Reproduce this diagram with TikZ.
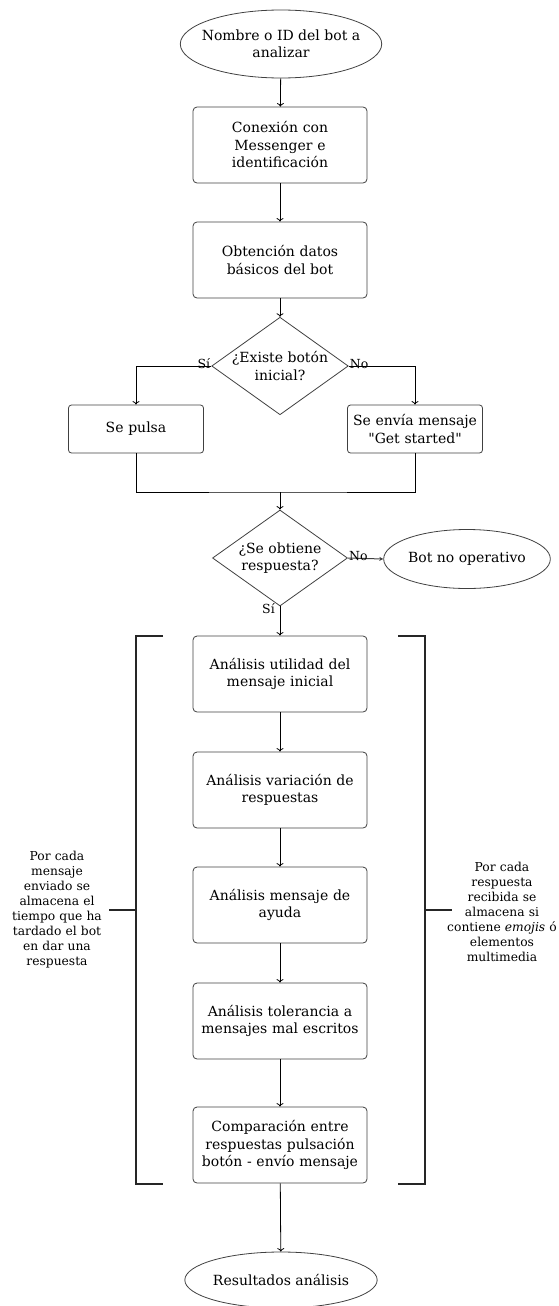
\documentclass[tikz,border=0pt]{standalone}
\usepackage{fontspec}
\setmainfont{DejaVu Serif}[Ligatures=TeXOff]
\usetikzlibrary{shapes.geometric,arrows.meta}
\begin{document}
\begin{tikzpicture}[x=1pt,y=-1pt,
  every node/.style={font=\fontsize{14}{17.5}\selectfont, align=center, inner sep=0pt},
  stepbox/.style={draw=black!75, line width=0.8pt, rounded corners=4pt, minimum width=174pt, minimum height=76pt, text width=168pt},
  sidebox/.style={draw=black!75, line width=0.8pt, rounded corners=3pt, minimum width=135pt, minimum height=48pt, text width=132pt},
  terminal/.style={draw=black!75, line width=0.8pt, ellipse},
  decision/.style={draw=black!75, line width=0.8pt, diamond, aspect=1.4, minimum width=135pt, minimum height=96pt},
  lbl/.style={font=\fontsize{12.5}{14}\selectfont},
  note/.style={font=\fontsize{12.3}{15}\selectfont, text width=110pt},
  flow/.style={draw=black, line width=0.8pt, -{To[length=3.5pt,width=7pt]}},
  link/.style={draw=black, line width=0.8pt},
  bracket/.style={draw=black!85, line width=1.7pt}
]
\useasboundingbox (0,0) rectangle (558,1306);

% main column
\node[terminal, inner xsep=-8pt, minimum width=193pt, minimum height=68pt] (start) at (281,44) {Nombre o ID del bot a\\analizar};
\node[stepbox] (conn) at (280,145) {Conexión con\\Messenger e\\identificación};
\node[stepbox] (basic) at (280,260) {Obtención datos\\básicos del bot};
\node[decision] (q1) at (280,366) {¿Existe botón\\inicial?};
\node[sidebox] (press) at (136,429) {Se pulsa};
\node[sidebox] (send) at (415,429) {Se envía mensaje\\"Get started"};
\coordinate (merge) at (280,492);
\node[decision] (q2) at (280,558) {¿Se obtiene\\respuesta?};
\node[terminal, minimum width=165pt, minimum height=59pt] (dead) at (467,559) {Bot no operativo};
\node[stepbox] (a1) at (280,674) {Análisis utilidad del\\mensaje inicial};
\node[stepbox] (a2) at (280,790) {Análisis variación de\\respuestas};
\node[stepbox] (a3) at (280,905) {Análisis mensaje de\\ayuda};
\node[stepbox] (a4) at (280,1021) {Análisis tolerancia a\\mensajes mal escritos};
\node[stepbox] (a5) at (280,1145) {Comparación entre\\respuestas pulsación\\botón - envío mensaje};
\node[terminal, minimum width=188pt, minimum height=56pt] (res) at (281,1280) {Resultados análisis};

% connectors
\draw[flow] (start) -- (conn);
\draw[flow] (conn) -- (basic);
\draw[flow] (basic) -- (q1);
\draw[flow] (q1.west) -| (press.north);
\draw[flow] (q1.east) -| (send.north);
\node[lbl, anchor=south east] (si1) at ([xshift=-1pt,yshift=-3pt]q1.west) {Sí};
\node[lbl, anchor=south west] (no1) at ([xshift=1pt,yshift=-3pt]q1.east) {No};
\draw[link] (press.south) |- (merge) -| (send.south);
\draw[flow] (merge) -- (q2);
\draw[draw=black!75, line width=1pt, -{Stealth[length=4pt,width=4pt]}] (q2.east) -- (dead.west);
\node[lbl, anchor=south west] (no2) at ([xshift=1pt,yshift=-3pt]q2.east) {No};
\draw[flow] (q2.south) -- (a1.north);
\node[lbl, anchor=north east] (si2) at ([xshift=-5pt,yshift=3pt]q2.south) {Sí};
\draw[flow] (a1) -- (a2);
\draw[flow] (a2) -- (a3);
\draw[flow] (a3) -- (a4);
\draw[flow] (a4) -- (a5);
\draw[flow] (a5) -- (res);

% brackets with their notes
\coordinate (ltick) at (109,910);
\coordinate (rtick) at (452,910);
\draw[bracket] (163,636) -- (136,636) -- (136,1184) -- (163,1184);
\draw[bracket] (136,910) -- (ltick);
\draw[bracket] (398,636) -- (425,636) -- (425,1184) -- (398,1184);
\draw[bracket] (425,910) -- (rtick);
\node[note] (lnote) at (57,910) {Por cada\\mensaje\\enviado se\\almacena el\\tiempo que ha\\tardado el bot\\en dar una\\respuesta};
\node[note] (rnote) at (502,912) {Por cada\\respuesta\\recibida se\\almacena si\\contiene \textit{emojis} ó\\elementos\\multimedia};
\end{tikzpicture}
\end{document}
